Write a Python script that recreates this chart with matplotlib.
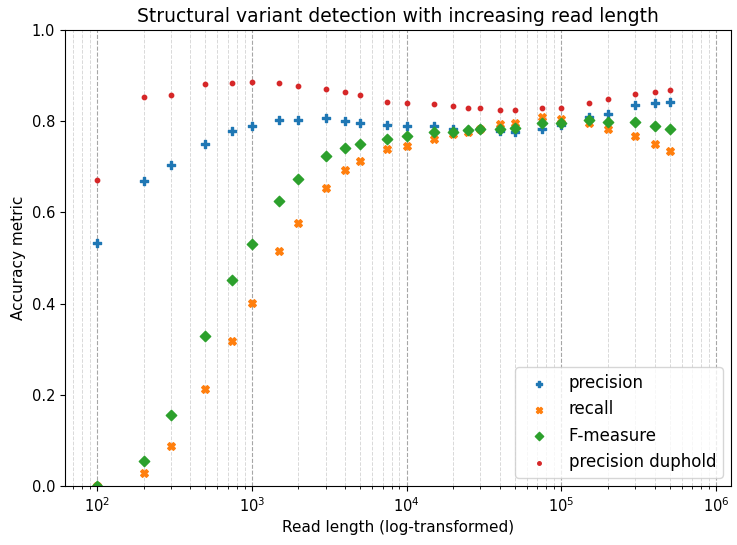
import numpy as np
import matplotlib
matplotlib.use("Agg")
import matplotlib.pyplot as plt

# read lengths tested
read_length = [100, 200, 300, 500, 750, 1000, 1500, 2000, 3000, 4000, 5000,
               7500, 10000, 15000, 20000, 25000, 30000, 40000, 50000, 75000,
               100000, 150000, 200000, 300000, 400000, 500000]

precision = [0.534, 0.668, 0.705, 0.750, 0.778, 0.789, 0.803, 0.803, 0.806,
             0.800, 0.795, 0.792, 0.790, 0.790, 0.784, 0.781, 0.782, 0.779,
             0.777, 0.784, 0.791, 0.809, 0.816, 0.835, 0.840, 0.843]

recall = [0.0, 0.029, 0.088, 0.212, 0.318, 0.402, 0.515, 0.577, 0.654, 0.692,
          0.713, 0.738, 0.746, 0.761, 0.773, 0.776, 0.782, 0.793, 0.795, 0.809,
          0.804, 0.797, 0.783, 0.768, 0.749, 0.734]

f_measure = [0.0, 0.055, 0.157, 0.330, 0.451, 0.531, 0.625, 0.673, 0.723,
             0.741, 0.751, 0.762, 0.768, 0.776, 0.777, 0.781, 0.783, 0.783,
             0.786, 0.795, 0.797, 0.803, 0.799, 0.799, 0.790, 0.783]

precision_duphold = [0.672, 0.852, 0.857, 0.881, 0.884, 0.886, 0.884, 0.878,
                     0.870, 0.865, 0.857, 0.843, 0.841, 0.838, 0.833, 0.828,
                     0.828, 0.825, 0.825, 0.828, 0.830, 0.841, 0.849, 0.860,
                     0.865, 0.868]

fig, ax = plt.subplots(figsize=(7.37, 5.45), dpi=100)

ax.scatter(read_length, precision, marker="P", s=28, color="C0", label="precision")
ax.scatter(read_length, recall, marker="X", s=30, color="C1", label="recall")
ax.scatter(read_length, f_measure, marker="D", s=28, color="C2", label="F-measure")
ax.scatter(read_length, precision_duphold, marker=".", s=40, color="C3",
           label="precision duphold")

ax.set_xscale("log")
ax.set_xlim(62, 1.25e6)
ax.set_ylim(0, 1.0)

# vertical grid only, major lines darker than minor
ax.grid(True, which="major", axis="x", linestyle="--", color="0.65", linewidth=0.8)
ax.grid(True, which="minor", axis="x", linestyle="--", color="0.85", linewidth=0.7)
ax.set_axisbelow(True)
ax.tick_params(labelsize=10.5)

ax.set_title("Structural variant detection with increasing read length", fontsize=13.5)
ax.set_xlabel("Read length (log-transformed)", fontsize=11)
ax.set_ylabel("Accuracy metric", fontsize=11)
ax.legend(loc="lower right", fontsize=12, markerscale=0.8)

plt.subplots_adjust(left=0.088, right=0.992, top=0.945, bottom=0.108)
plt.savefig("out.png", dpi=100)
